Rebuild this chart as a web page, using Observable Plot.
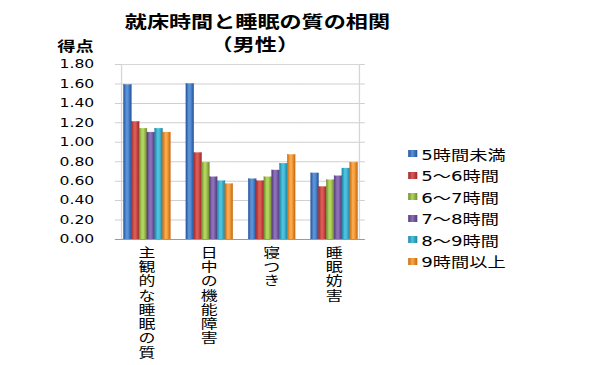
<!DOCTYPE html>
<html>
<head>
<meta charset="utf-8">
<script src="https://cdn.jsdelivr.net/npm/d3@7"></script>
<script src="https://cdn.jsdelivr.net/npm/@observablehq/plot@0.6"></script>
<style>
  html, body { margin: 0; padding: 0; background: #fff; }
  #wrap { position: relative; width: 460px; height: 365px; transform: scaleX(1.3); transform-origin: 0 0;
          font-family: "DejaVu Sans", "Noto Sans CJK JP", sans-serif; color: #000; }
  #chart { position: absolute; left: 0; top: 0; }
  .title { position: absolute; left: 96px; width: 200px; text-align: center; font-weight: bold; font-size: 17px; white-space: nowrap; }
  .ylab { position: absolute; left: 44px; top: 35px; font-weight: bold; font-size: 14px; }
  #legend { position: absolute; left: 314px; top: 143px; font-size: 14px; }
  .li { display: flex; align-items: center; height: 21.5px; white-space: nowrap; }
  .sw { width: 7px; height: 7px; margin-right: 3px; }
</style>
</head>
<body>
<div id="wrap">
  <div id="chart"></div>
  <div class="title" style="top:8px">就床時間と睡眠の質の相関</div>
  <div class="title" style="top:31px">（男性）</div>
  <div class="ylab">得点</div>
  <div id="legend"></div>
</div>
<script>
const categories = ["主観的な睡眠の質", "日中の機能障害", "寝つき", "睡眠妨害"];
const series = ["5時間未満", "5～6時間", "6～7時間", "7～8時間", "8～9時間", "9時間以上"];
const h5under = [1.59, 1.60, 0.62, 0.68];
const h5to6   = [1.21, 0.89, 0.60, 0.54];
const h6to7   = [1.14, 0.79, 0.64, 0.61];
const h7to8   = [1.10, 0.64, 0.71, 0.65];
const h8to9   = [1.14, 0.60, 0.78, 0.73];
const h9over  = [1.10, 0.57, 0.87, 0.79];
const yTicks = [0, 0.2, 0.4, 0.6, 0.8, 1.0, 1.2, 1.4, 1.6, 1.8];
const darkColors  = ["#23529a", "#9c2727", "#6e8c2a", "#51397c", "#1d84a2", "#c66810"];
const lightColors = ["#5a92d8", "#dc5a56", "#b4d460", "#8c70b8", "#4cc2de", "#fba848"];

const seriesValues = [h5under, h5to6, h6to7, h7to8, h8to9, h9over];
const rows = categories.flatMap((c, i) => series.map((s, j) => ({
  cat: c, ser: s, value: seriesValues[j][i], fill: `url(#g${j})`
})));

const W = 460, ML = 87, MR = 178.5;
const PIN = 0.19, POUT = PIN / 2;
const step = (W - ML - MR) / (categories.length - PIN + 2 * POUT);
const ext = -step * PIN / 2; // extend grid rules across the gaps between facets

const fmt = d3.format(".2f");
const chart = Plot.plot({
  width: W,
  height: 365,
  marginLeft: ML,
  marginRight: MR,
  marginTop: 64,
  marginBottom: 126,
  style: { fontFamily: '"DejaVu Sans", "Noto Sans CJK JP", sans-serif', color: "#000", background: "transparent" },
  fx: { domain: categories, paddingInner: PIN, paddingOuter: POUT, label: null },
  x: { domain: series, padding: 0, axis: null },
  y: { domain: [0, 1.8], label: null },
  color: { type: "identity" },
  marks: [
    Plot.gridY(yTicks, { stroke: "#cfcfcf", strokeOpacity: 1, insetLeft: ext, insetRight: ext }),
    Plot.frame({ facet: "super", stroke: "#d6d6d6" }),
    Plot.barY(rows, { fx: "cat", x: "ser", y: "value", fill: "fill", stroke: "fill", strokeWidth: 0.3 }),
    Plot.ruleY([0], { stroke: "#9a9a9a", insetLeft: ext, insetRight: ext }),
    Plot.axisY(yTicks, { tickSize: 0, tickPadding: 21, tickFormat: fmt, fontSize: 12, label: null }),
    Plot.axisFx({ anchor: "bottom", tickSize: 0, tickPadding: 7, fontSize: 13, lineHeight: 1.1, label: null,
                  tickFormat: d => d.split("").join("\n") })
  ]
});

// gradients for the 3D-like bars
const ns = "http://www.w3.org/2000/svg";
const defs = document.createElementNS(ns, "defs");
darkColors.forEach((dc, j) => {
  const g = document.createElementNS(ns, "linearGradient");
  g.setAttribute("id", `g${j}`);
  g.setAttribute("x1", "0"); g.setAttribute("x2", "1"); g.setAttribute("y1", "0"); g.setAttribute("y2", "0");
  [[0, dc], [0.35, lightColors[j]], [0.55, lightColors[j]], [1, dc]].forEach(([o, c]) => {
    const s = document.createElementNS(ns, "stop");
    s.setAttribute("offset", o); s.setAttribute("stop-color", c);
    g.appendChild(s);
  });
  defs.appendChild(g);
});
chart.insertBefore(defs, chart.firstChild);
document.getElementById("chart").appendChild(chart);

// legend
const lg = document.getElementById("legend");
series.forEach((s, j) => {
  const d = document.createElement("div");
  d.className = "li";
  d.innerHTML = `<div class="sw" style="background:linear-gradient(to right, ${darkColors[j]}, ${lightColors[j]} 45%, ${darkColors[j]})"></div><span>${s}</span>`;
  lg.appendChild(d);
});
</script>
</body>
</html>
